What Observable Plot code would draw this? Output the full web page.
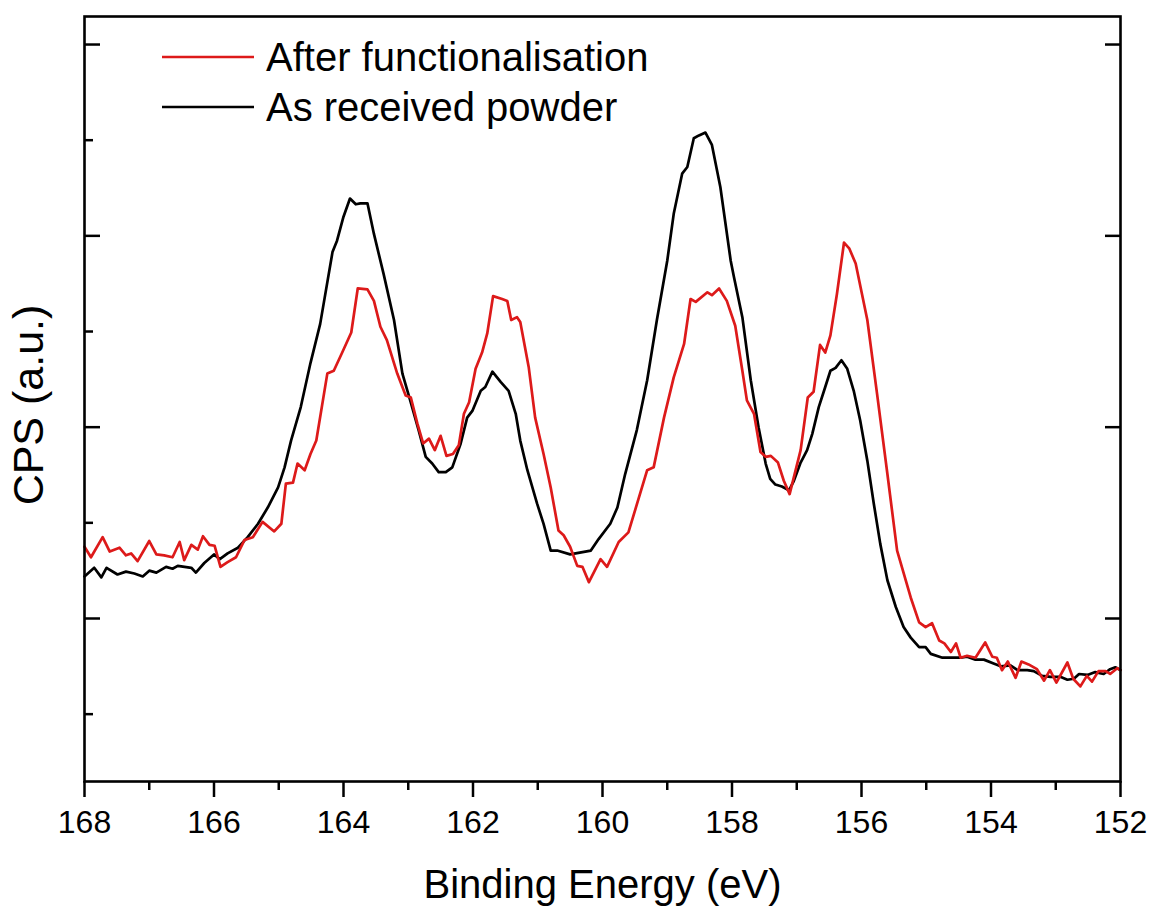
<!DOCTYPE html>
<html><head><meta charset="utf-8">
<script src="https://cdn.jsdelivr.net/npm/d3@7"></script>
<script src="https://cdn.jsdelivr.net/npm/@observablehq/plot@0.6"></script>
<style>
body{margin:0;background:#fff;}
#chart{position:relative;width:1151px;height:906px;}
</style>
</head><body><div id="chart"></div>
<script>
// Binding energy (eV) and counts for "As received powder"
const energyAsReceived = [168.00,167.85,167.74,167.66,167.49,167.36,167.23,167.10,167.00,166.89,166.74,166.64,166.56,166.35,166.28,166.15,166.00,165.91,165.79,165.63,165.48,165.32,165.17,165.01,164.91,164.81,164.66,164.51,164.36,164.17,164.10,164.00,163.90,163.81,163.74,163.63,163.53,163.38,163.22,163.09,162.97,162.84,162.73,162.63,162.53,162.42,162.32,162.19,162.09,162.01,161.88,161.81,161.70,161.57,161.45,161.34,161.27,161.16,161.01,160.91,160.80,160.70,160.50,160.18,160.06,159.88,159.77,159.65,159.47,159.31,159.16,159.00,158.90,158.77,158.69,158.59,158.51,158.41,158.31,158.18,158.02,157.97,157.84,157.71,157.59,157.48,157.41,157.33,157.23,157.12,157.05,156.94,156.84,156.76,156.66,156.56,156.48,156.40,156.31,156.22,156.12,156.02,155.91,155.81,155.71,155.60,155.47,155.35,155.24,155.11,155.01,154.93,154.75,154.47,154.37,154.24,154.11,153.96,153.85,153.70,153.59,153.44,153.34,153.21,153.08,152.93,152.82,152.72,152.64,152.51,152.39,152.26,152.16,152.08,152.00];
const cpsAsReceived = [2440,2530,2430,2530,2460,2490,2470,2440,2500,2480,2540,2520,2550,2530,2480,2580,2670,2620,2680,2740,2850,2990,3160,3370,3580,3860,4210,4670,5080,5830,5950,6200,6390,6330,6340,6340,6020,5600,5120,4560,4280,3970,3690,3620,3530,3530,3580,3830,4100,4170,4380,4420,4580,4470,4380,4140,3860,3550,3200,2990,2710,2710,2670,2710,2830,2990,3160,3510,3970,4490,5120,5740,6230,6650,6720,7020,7050,7080,6950,6510,5740,5570,5150,4490,4000,3620,3460,3400,3380,3340,3430,3630,3760,3930,4210,4420,4590,4620,4700,4610,4380,4070,3650,3200,2780,2400,2120,1910,1800,1700,1700,1630,1590,1590,1600,1570,1570,1530,1500,1510,1460,1460,1450,1400,1390,1390,1360,1370,1420,1410,1440,1420,1470,1490,1460];

// Binding energy (eV) and counts for "After functionalisation"
const energyAfter = [168.00,167.90,167.72,167.61,167.46,167.36,167.28,167.18,167.00,166.89,166.77,166.64,166.53,166.46,166.35,166.25,166.17,166.07,165.99,165.90,165.79,165.66,165.53,165.40,165.25,165.07,164.96,164.89,164.78,164.71,164.60,164.51,164.42,164.25,164.15,164.02,163.88,163.78,163.63,163.53,163.43,163.33,163.17,163.04,162.96,162.86,162.77,162.68,162.59,162.50,162.41,162.31,162.22,162.14,162.06,161.96,161.86,161.78,161.69,161.55,161.47,161.41,161.32,161.27,161.14,161.04,160.91,160.80,160.68,160.60,160.50,160.39,160.31,160.21,160.03,159.93,159.75,159.60,159.31,159.21,159.05,158.90,158.74,158.64,158.56,158.38,158.31,158.20,158.08,157.95,157.84,157.77,157.66,157.56,157.48,157.40,157.29,157.20,157.11,156.94,156.83,156.74,156.64,156.56,156.48,156.38,156.27,156.19,156.09,155.91,155.76,155.60,155.45,155.24,155.11,155.01,154.91,154.80,154.72,154.62,154.54,154.47,154.37,154.24,154.09,153.98,153.91,153.83,153.74,153.62,153.53,153.42,153.29,153.18,153.09,152.99,152.82,152.73,152.62,152.52,152.44,152.34,152.23,152.16,152.05,152.00];
const cpsAfter = [2750,2640,2850,2700,2740,2660,2680,2600,2810,2670,2660,2640,2800,2610,2770,2720,2860,2770,2760,2540,2590,2640,2820,2850,3010,2910,2990,3410,3420,3620,3550,3720,3860,4560,4590,4780,4990,5450,5440,5320,5050,4910,4560,4330,4310,4040,3830,3880,3760,3910,3700,3720,3810,4140,4260,4610,4780,4980,5370,5340,5320,5120,5150,5100,4630,4100,3720,3370,2920,2870,2750,2550,2540,2380,2620,2540,2800,2900,3550,3580,4100,4520,4870,5340,5310,5410,5380,5450,5320,5060,4590,4280,4140,3740,3690,3700,3630,3440,3300,3760,4310,4370,4860,4780,4960,5390,5930,5870,5710,5120,4350,3510,2710,2220,1960,1910,1950,1770,1740,1650,1740,1590,1610,1590,1750,1600,1590,1460,1550,1380,1550,1520,1470,1350,1460,1330,1540,1370,1290,1400,1340,1450,1450,1420,1480,1460];

const seriesNames = ["After functionalisation", "As received powder"];
const seriesColors = ["#dd1a1a", "#000000"];
const xDomain = [168, 152];
const yDomain = [296, 8293];
const xMajorTicks = [168, 166, 164, 162, 160, 158, 156, 154, 152];
const xMinorTicks = [167, 165, 163, 161, 159, 157, 155, 153];
const yMajorTicks = [2000, 4000, 6000, 8000];
const yMinorTicks = [1000, 3000, 5000, 7000];
const xTitle = "Binding Energy (eV)";
const yTitle = "CPS (a.u.)";

const asReceived = energyAsReceived.map((e, i) => ({energy: e, cps: cpsAsReceived[i]}));
const after = energyAfter.map((e, i) => ({energy: e, cps: cpsAfter[i]}));

const FONT = "'Liberation Sans', Arial, sans-serif";
const blank = () => "";

const chart = Plot.plot({
  width: 1151,
  height: 906,
  marginLeft: 84,
  marginRight: 31,
  marginTop: 16,
  marginBottom: 125,
  style: {fontFamily: FONT, background: "#fff", color: "#000", overflow: "visible"},
  x: {domain: xDomain},
  y: {domain: yDomain},
  marks: [
    Plot.line(asReceived, {x: "energy", y: "cps", stroke: seriesColors[1], strokeWidth: 2.7}),
    Plot.line(after, {x: "energy", y: "cps", stroke: seriesColors[0], strokeWidth: 2.7}),
    Plot.axisX({ticks: xMajorTicks, tickSize: 16, tickPadding: 13, strokeWidth: 2.5, fontSize: 32, label: null}),
    Plot.axisX({ticks: xMinorTicks, tickSize: 9, strokeWidth: 2.5, tickFormat: blank, label: null}),
    Plot.axisY({anchor: "left", ticks: yMajorTicks, tickSize: 16, dx: 16, strokeWidth: 2.5, tickFormat: blank, label: null}),
    Plot.axisY({anchor: "left", ticks: yMinorTicks, tickSize: 9, dx: 9, strokeWidth: 2.5, tickFormat: blank, label: null}),
    Plot.axisY({anchor: "right", ticks: yMajorTicks, tickSize: 16, dx: -16, strokeWidth: 2.5, tickFormat: blank, label: null}),
    Plot.frame({stroke: "#000", strokeWidth: 2.6}),
    Plot.text([xTitle], {text: d => d, frameAnchor: "bottom", dy: 88, lineAnchor: "top", fontSize: 40}),
    Plot.text([yTitle], {text: d => d, frameAnchor: "left", dx: -55, dy: 6, rotate: -90, textAnchor: "middle", lineAnchor: "middle", fontSize: 43})
  ]
});
document.getElementById("chart").appendChild(chart);

// Legend drawn inside the plot area, top-left
const svg = d3.select(chart);
const lg = svg.append("g").attr("font-family", FONT).attr("font-size", 40).attr("text-anchor", "start");
const legendOrder = [0, 1];
legendOrder.forEach((k, i) => {
  const cy = 57 + i * 50;
  lg.append("line").attr("x1", 162).attr("x2", 254).attr("y1", cy).attr("y2", cy)
    .attr("stroke", seriesColors[k]).attr("stroke-width", 2.6);
  lg.append("text").attr("x", 266).attr("y", cy + 14).attr("fill", "#000")
    .attr("text-anchor", "start").text(seriesNames[k]);
});
</script>
</body></html>
